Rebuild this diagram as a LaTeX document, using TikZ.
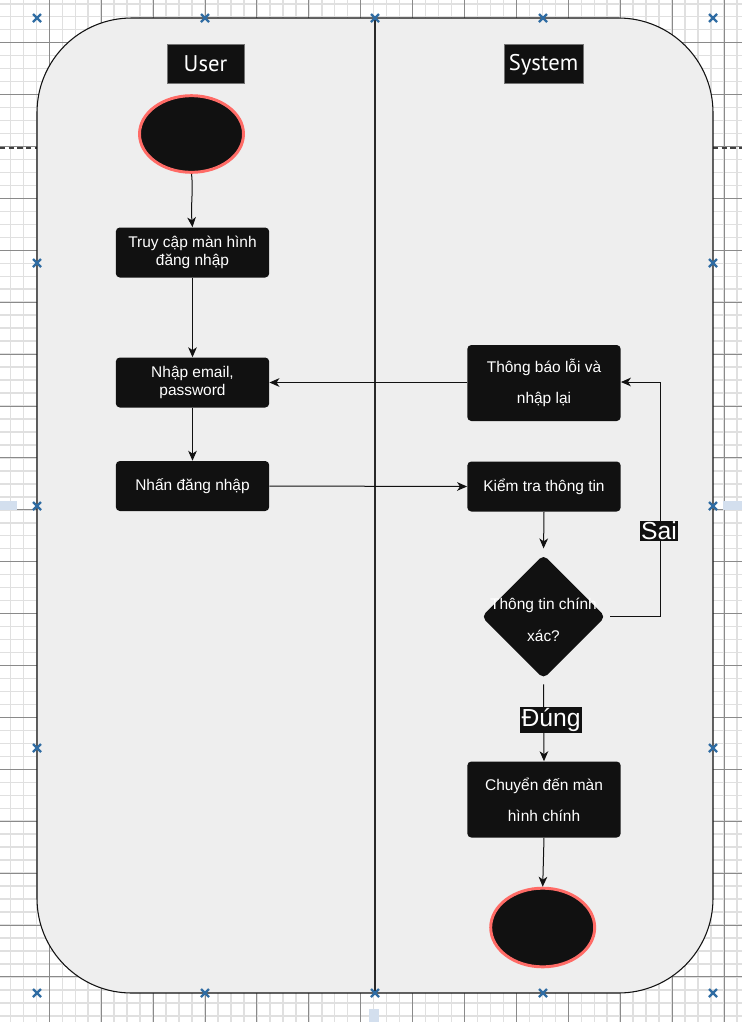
\documentclass[tikz,border=0pt]{standalone}
\usepackage{fontspec}
\setmainfont{Liberation Sans}
\newfontfamily\handfont{PT Sans}
\usetikzlibrary{arrows.meta,shapes.geometric}
\definecolor{shapefill}{HTML}{EEEEEE}
\definecolor{nodefill}{HTML}{111111}
\definecolor{startred}{HTML}{FF6B66}
\definecolor{handleblue}{HTML}{2F6CA3}
\definecolor{minorgrid}{HTML}{E0E0E0}
\definecolor{majorgrid}{HTML}{8A8A8A}
\definecolor{guideblue}{HTML}{D3DFEE}
\tikzset{
  minorline/.style={draw=minorgrid, line width=1.1pt},
  majorline/.style={draw=majorgrid, line width=0.7pt},
  actbox/.style={rectangle, fill=nodefill, rounded corners=3pt, text=white,
    minimum width=115pt, minimum height=37.5pt, inner sep=0pt, align=center,
    font=\fontsize{11.6}{13}\selectfont},
  tallbox/.style={actbox, minimum height=57pt, font=\fontsize{11.6}{23}\selectfont},
  decbox/.style={diamond, fill=nodefill, rounded corners=4pt, aspect=1,
    minimum width=93pt, minimum height=93pt, inner sep=0pt},
  dectext/.style={text=white, inner sep=0pt, align=center,
    font=\fontsize{11.6}{24.5}\selectfont},
  termnode/.style={ellipse, fill=nodefill, draw=startred, line width=2.2pt},
  lanelabel/.style={rectangle, fill=nodefill, draw=black!55, line width=0.4pt, text=white,
    minimum width=58pt, minimum height=29pt, inner sep=0pt, font=\handfont\fontsize{17}{19}\selectfont},
  edgelabel/.style={rectangle, fill=nodefill, text=white, inner sep=1pt,
    font=\fontsize{18.5}{20}\selectfont},
  arr/.style={draw=nodefill, line width=0.75pt, -{Stealth[length=7.5pt,width=6.5pt,inset=2.2pt]}},
  handlemark/.style={draw=handleblue, line width=1.8pt},
}
\begin{document}
\begin{tikzpicture}[x=0.75pt,y=-0.75pt]
\useasboundingbox (0,0) rectangle (742,1022);
\fill[white] (0,0) rectangle (742,1022);
% grid
\foreach \k in {0,...,58} \draw[minorline] ({-2.6+\k*12.975},0) -- ({-2.6+\k*12.975},1022);
\foreach \k in {0,...,79} \draw[minorline] (0,{3.775+\k*12.975}) -- (742,{3.775+\k*12.975});
\foreach \k in {0,...,14} \draw[majorline] ({-2.6+\k*51.9},0) -- ({-2.6+\k*51.9},1022);
\foreach \k in {0,...,20} \draw[majorline] (0,{-9.2+\k*51.9}) -- (742,{-9.2+\k*51.9});
% guides
\fill[guideblue] (0,501) rectangle (17,510);
\fill[guideblue] (723,501) rectangle (742,510);
\fill[guideblue] (369,1009) rectangle (379,1022);
\draw[black!75, line width=0.9pt, dash pattern=on 4pt off 2.5pt] (0,148) -- (37,148);
\draw[black!75, line width=0.9pt, dash pattern=on 4pt off 2.5pt] (713,148) -- (742,148);
% container
\draw[fill=shapefill, draw=nodefill, line width=0.8pt, rounded corners=71pt] (37,18) rectangle (713,993);
\draw[draw=nodefill!90, line width=1.6pt] (375,18) -- (375,993);
% lane labels
\node[lanelabel] (userlbl) at (205.5,63.8) {User};
\node[lanelabel, minimum width=59pt] (syslbl) at (543.5,63.8) {};
\begin{scope}
  \clip (504.3,44.3) rectangle (582.7,83.3);
  \node[text=white, font=\handfont\fontsize{17}{19}\selectfont, inner sep=0pt] (systxt) at (543.5,65) {System};
\end{scope}
% nodes
\node[termnode, minimum width=78pt, minimum height=57.5pt] (start) at (191.5,134) {};
\node[actbox] (truy) at (192.5,252.5) {Truy cập màn hình\\đăng nhập};
\node[actbox] (nhap) at (192.5,382.5) {Nhập email,\\password};
\node[actbox] (nhan) at (192.5,486) {Nhấn đăng nhập};
\node[tallbox] (thongbao) at (544,383) {Thông báo lỗi và\\nhập lại};
\node[actbox] (kiem) at (544,486.5) {Kiểm tra thông tin};
\node[decbox] (dec) at (543.5,616.7) {};
\node[dectext] (dectxt) at (543.5,620) {Thông tin chính\\xác?};
\node[tallbox] (chuyen) at (544,799.5) {Chuyển đến màn\\hình chính};
\node[termnode, minimum width=78pt, minimum height=59pt] (end) at (542.7,927.5) {};
\coordinate (sairight) at (660,382);
% edges
\draw[arr] (start.south) .. controls (193.5,192) and (190.5,205) .. (truy.north);
\draw[arr] (truy.south) -- (nhap.north);
\draw[arr] (nhap.south) -- (nhan.north);
\draw[arr] (nhan.east) -- (kiem.west);
\draw[arr] (thongbao.west |- nhap.east) -- (nhap.east);
\draw[arr, shorten >=4.5pt] (kiem.south) -- (dec.north);
\draw[arr] ([xshift=3.5pt]dec.east) -| (sairight) -- (sairight -| thongbao.east);
\draw[arr] ([yshift=-4pt]dec.south) -- (chuyen.north);
\draw[arr] (chuyen.south) -- (end.north);
\node[edgelabel] (sai) at (659,531) {Sai};
\node[edgelabel] (dung) at (551,720) {Đúng};
% handles
\foreach \hx/\hy in {37/18,205/18,375/18,543/18,713/18,37/263,713/263,37/506,713/506,37/748,713/748,37/993,205/993,375/993,543/993,713/993}{
  \draw[handlemark] (\hx-4,\hy-4) -- (\hx+4,\hy+4);
  \draw[handlemark] (\hx-4,\hy+4) -- (\hx+4,\hy-4);
}
\end{tikzpicture}
\end{document}
